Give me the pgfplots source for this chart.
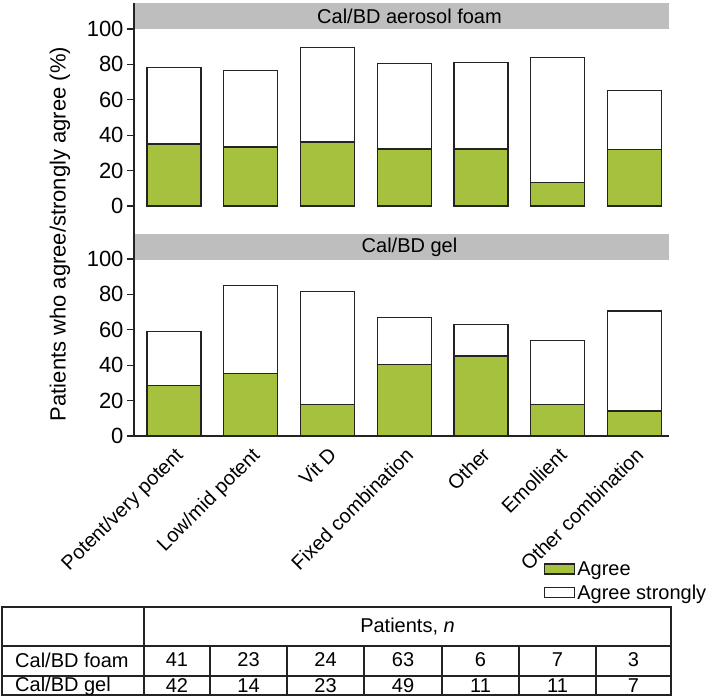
\documentclass[border=0pt]{standalone}
\usepackage{fontspec}
\setmainfont{Liberation Sans}
\usepackage{pgfplots}
\pgfplotsset{compat=1.18}

\definecolor{agreegreen}{RGB}{165,193,62}
\definecolor{stripgray}{RGB}{190,190,190}
\definecolor{linecol}{RGB}{35,35,35}

\newcommand{\txt}{\fontsize{20bp}{24bp}\selectfont}
\newcommand{\bigtxt}{\fontsize{22bp}{26bp}\selectfont}

\pgfplotsset{
  boxlegend/.style={legend image code/.code={\draw[##1] (0bp,-5bp) rectangle (30bp,5bp);}},
  panel/.style={
    width=535bp, scale only axis,
    xmin=-0.52, xmax=6.45,
    ybar stacked, bar width=54bp,
    axis y line*=left,
    axis line style={linecol, line width=1.2bp},
    ytick={0,20,...,100},
    tick align=outside,
    major tick length=7bp,
    every tick/.style={linecol, line width=1.2bp},
    yticklabel style={font=\bigtxt},
    xticklabel style={font=\txt},
    /pgf/number format/assume math mode=true,
    axis on top,
  },
  agreebar/.style={fill=agreegreen, draw=linecol, line width=1.3bp, boxlegend},
  strongbar/.style={fill=white, draw=linecol, line width=1.3bp, boxlegend},
}

\begin{document}
\begin{tikzpicture}
\path[use as bounding box] (0,0) rectangle (709bp,-696bp);

% panel header strips
\fill[stripgray] (134bp,-3bp) rectangle (669bp,-29bp);
\node[font=\txt] at (409.5bp,-16bp) {Cal/BD aerosol foam};
\fill[stripgray] (134bp,-234bp) rectangle (669bp,-260bp);
\node[font=\txt] at (409.5bp,-247bp) {Cal/BD gel};

% top panel: Cal/BD aerosol foam
\begin{axis}[panel,
    at={(134bp,-234bp)}, anchor=south west, height=231bp,
    ymin=-15.8, ymax=114.7,
    axis x line=none]
  \addplot[agreebar] coordinates {(0,35.0) (1,33.3) (2,36.2) (3,32.2) (4,32.2) (5,13.4) (6,31.8)};
  \addplot[strongbar] coordinates {(0,43.4) (1,43.2) (2,53.3) (3,48.4) (4,49.0) (5,70.4) (6,33.3)};
\end{axis}

% bottom panel: Cal/BD gel
\begin{axis}[panel,
    at={(134bp,-436bp)}, anchor=south west, height=202bp,
    ymin=0, ymax=114.1,
    axis x line*=bottom,
    xtick={0,...,6},
    xticklabels={Potent/very potent, Low/mid potent, Vit D, Fixed combination, Other, Emollient, Other combination},
    x tick style={draw=none},
    xticklabel style={rotate=45, anchor=north east, inner sep=2bp},
    legend style={at={(axis description cs:0.766,-0.61)}, anchor=north west,
      draw=none, fill=none, font=\txt,
      row sep=4bp, inner sep=0pt},
    legend cell align=left,
    ]
  \addplot[agreebar] coordinates {(0,28.6) (1,35.3) (2,17.7) (3,40.5) (4,45.2) (5,17.9) (6,14.1)};
  \addplot[strongbar] coordinates {(0,30.6) (1,49.7) (2,63.9) (3,26.4) (4,17.7) (5,36.2) (6,56.5)};
  \legend{Agree, Agree strongly}
\end{axis}

\node[rotate=90, font=\bigtxt] at (60bp,-234bp) {Patients who agree/strongly agree (\%)};

% table of patient counts
\begin{scope}[line width=1.2bp, draw=linecol]
  \draw (2bp,-607bp) rectangle (671bp,-695bp);
  \draw (2bp,-646bp) -- (671bp,-646bp);
  \draw (2bp,-676bp) -- (671bp,-676bp);
  \draw (144bp,-607bp) -- (144bp,-695bp);
  \foreach \cx in {210,287,364,442,519,596} \draw (\cx bp,-646bp) -- (\cx bp,-695bp);
\end{scope}
\begin{scope}[every node/.style={font=\txt, inner sep=0pt}]
  \node at (407.5bp,-626.5bp) {Patients, \textit{n}};
  \node[anchor=west] at (15bp,-660bp) {Cal/BD foam};
  \node[anchor=west] at (15bp,-686bp) {Cal/BD gel};
  \foreach \cx/\a/\b in {177/41/42, 248.5/23/14, 325.5/24/23, 403/63/49, 480.5/6/11, 557.5/7/11, 633.5/3/7} {
    \node at (\cx bp,-660bp) {\a};
    \node at (\cx bp,-686bp) {\b};
  }
\end{scope}
\end{tikzpicture}
\end{document}
